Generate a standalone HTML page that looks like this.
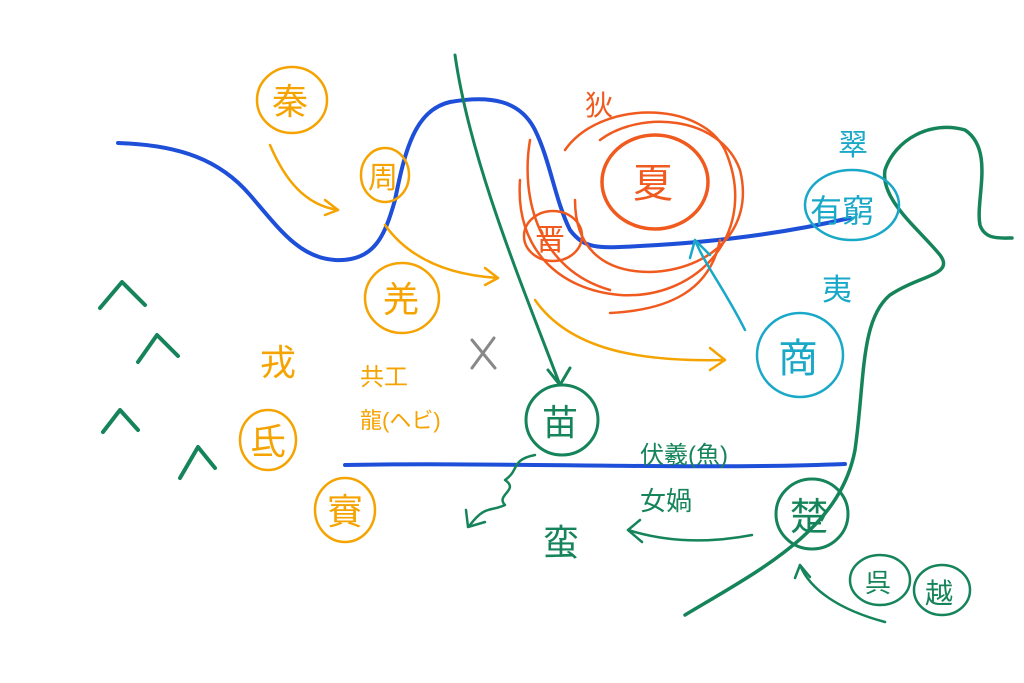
<!DOCTYPE html>
<html><head><meta charset="utf-8"><style>
html,body{margin:0;padding:0;background:#fff;}
svg{display:block}
text{font-family:"Liberation Sans","Noto Sans CJK JP",sans-serif;}
</style></head><body>
<svg width="1024" height="683" viewBox="0 0 1024 683" xmlns="http://www.w3.org/2000/svg" fill="none" stroke-linecap="round" stroke-linejoin="round">
<rect width="1024" height="683" fill="#fff"/>
<!-- blue rivers -->
<path d="M118 143 C180 145 220 160 250 195 C280 230 300 258 335 260 C375 262 385 235 395 200 C405 150 415 110 450 102 C490 95 520 100 535 130 C550 160 555 200 570 230 C585 250 600 248 640 246 C720 242 790 232 850 218" stroke="#1e4fd8" stroke-width="4"/>
<path d="M345 465 C500 462 700 470 845 464" stroke="#1e4fd8" stroke-width="4"/>
<!-- green lines -->
<path d="M455 55 C470 160 520 280 560 385" stroke="#16845a" stroke-width="3"/>
<path d="M548 370 L560 385 L570 368" stroke="#16845a" stroke-width="3"/>
<path d="M685 615 C760 570 840 530 855 450 C865 380 860 320 890 295 C920 275 955 275 940 255 C920 230 880 200 885 170 C895 140 930 120 965 130 C995 150 975 200 980 225 C985 240 1000 238 1012 238" stroke="#16845a" stroke-width="3.5"/>
<!-- green ^ marks -->
<g stroke="#16845a" stroke-width="4">
<path d="M100 308 L122 282 L145 305"/>
<path d="M138 362 L157 335 L178 356"/>
<path d="M103 432 L120 410 L138 430"/>
<path d="M180 478 L198 447 L215 468"/>
</g>
<!-- orange -->
<g stroke="#f5a300" stroke-width="2.5">
<ellipse cx="292" cy="100" rx="35" ry="33"/>
<ellipse cx="385" cy="175" rx="24" ry="27"/>
<ellipse cx="402" cy="298" rx="37" ry="35"/>
<ellipse cx="268" cy="440" rx="28" ry="30"/>
<ellipse cx="345" cy="510" rx="30" ry="32"/>
<path d="M270 145 C285 180 305 205 338 210"/><path d="M325 200 L338 210 L325 215"/>
<path d="M385 225 C410 260 450 275 498 278"/><path d="M485 268 L498 278 L485 285"/>
<path d="M535 300 C570 350 640 362 725 360"/><path d="M710 348 L725 360 L710 370"/>
</g>
<g fill="#f5a300" font-size="36">
<text x="272" y="114">秦</text><text x="368" y="188" font-size="30">周</text>
<text x="383" y="312">羌</text><text x="260" y="375">戎</text>
<text x="250" y="454">氐</text><text x="327" y="524">賨</text>
<text x="360" y="385" font-size="24">共工</text><text x="360" y="428" font-size="22">龍(ヘビ)</text>
</g>
<!-- gray x -->
<g stroke="#888" stroke-width="3"><path d="M472 340 L495 368"/><path d="M494 338 L472 368"/></g>
<!-- red -->
<g stroke="#f05a1e" stroke-width="2.5">
<ellipse cx="655" cy="182" rx="53" ry="47" stroke-width="3.5"/>
<path d="M600 140 C640 110 720 115 740 170 C755 230 710 270 650 272 C600 272 575 245 575 200"/>
<path d="M565 150 C600 100 700 100 725 150 C760 230 700 300 620 295 C560 290 515 250 520 180"/>
<path d="M530 140 C520 200 540 270 610 290"/>
<path d="M610 313 C670 310 710 290 720 240"/>
<ellipse cx="553" cy="236" rx="29" ry="25"/>
</g>
<g fill="#f05a1e"><text x="585" y="115" font-size="28">狄</text><text x="633" y="197" font-size="40">夏</text><text x="535" y="250" font-size="30">晋</text></g>
<!-- cyan -->
<g stroke="#1aa8c8" stroke-width="2.5">
<ellipse cx="852" cy="205" rx="47" ry="35"/>
<ellipse cx="800" cy="355" rx="43" ry="42"/>
<path d="M745 330 C725 290 705 265 695 240"/><path d="M690 258 L695 240 L710 255"/>
</g>
<g fill="#1aa8c8"><text x="838" y="155" font-size="30">翠</text><text x="810" y="222" font-size="32">有窮</text>
<text x="822" y="300" font-size="30">夷</text><text x="778" y="372" font-size="40">商</text></g>
<!-- green nodes -->
<g stroke="#16845a" stroke-width="2.5">
<ellipse cx="562" cy="420" rx="36" ry="35" stroke-width="3"/>
<path d="M535 455 C510 460 520 470 505 480 C520 490 495 495 505 505 C490 512 485 505 470 525"/>
<path d="M466 510 L468 527 L485 522"/>
<ellipse cx="812" cy="514" rx="36" ry="35" stroke-width="3"/>
<path d="M752 535 C700 545 660 540 628 530"/><path d="M640 520 L628 530 L642 542"/>
<ellipse cx="880" cy="580" rx="30" ry="25"/>
<ellipse cx="942" cy="590" rx="28" ry="25"/>
<path d="M885 622 C840 610 810 590 800 565"/><path d="M795 578 L800 565 L810 577"/>
</g>
<g fill="#16845a"><text x="542" y="435" font-size="36">苗</text><text x="543" y="555" font-size="36">蛮</text>
<text x="640" y="463" font-size="24">伏羲(魚)</text><text x="640" y="510" font-size="26">女媧</text>
<text x="790" y="530" font-size="38">楚</text><text x="865" y="592" font-size="26">呉</text><text x="925" y="603" font-size="28">越</text></g>
</svg>
</body></html>
